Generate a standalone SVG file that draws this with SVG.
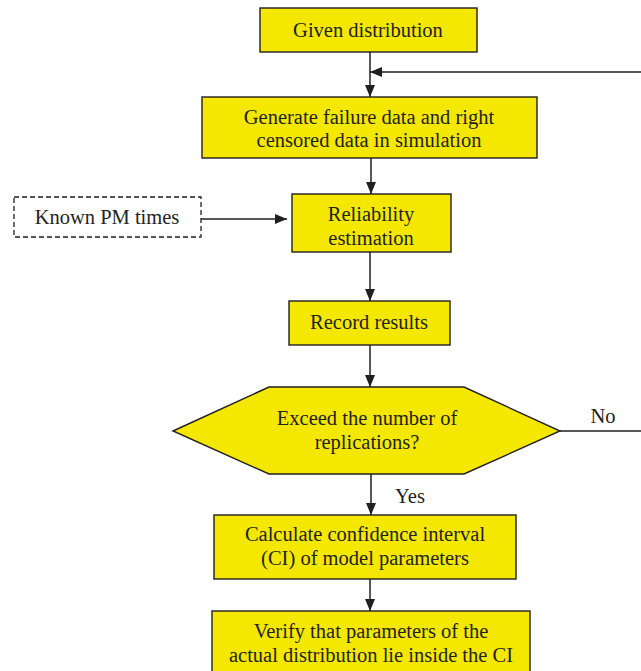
<svg xmlns="http://www.w3.org/2000/svg" width="641" height="671" viewBox="0 0 641 671">
<style>
.box{fill:#f5e800;stroke:#231f20;stroke-width:1.4}
.dash{fill:#fff;stroke:#231f20;stroke-width:1.3;stroke-dasharray:5,3}
.t{font-family:"Liberation Serif","Times New Roman",serif;font-size:20.5px;fill:#231f20;text-anchor:middle}
.ln{stroke:#231f20;stroke-width:1.5;fill:none}
</style>
<defs>
<marker id="ah" viewBox="0 0 12 10" refX="12" refY="5" markerWidth="12" markerHeight="10" markerUnits="userSpaceOnUse" orient="auto">
<path d="M0,0 L12,5 L0,10 Z" fill="#231f20"/>
</marker>
</defs>
<rect width="641" height="671" fill="#fff"/>
<g id="connectors">
<line class="ln" x1="370" y1="52" x2="370" y2="97" marker-end="url(#ah)"/>
<line class="ln" x1="641" y1="72" x2="370" y2="72" marker-end="url(#ah)"/>
<line class="ln" x1="371" y1="158" x2="371" y2="194" marker-end="url(#ah)"/>
<line class="ln" x1="201" y1="219" x2="287" y2="219" marker-end="url(#ah)"/>
<line class="ln" x1="370" y1="252" x2="370" y2="301" marker-end="url(#ah)"/>
<line class="ln" x1="370" y1="345" x2="370" y2="387" marker-end="url(#ah)"/>
<line class="ln" x1="371" y1="474" x2="371" y2="515" marker-end="url(#ah)"/>
<line class="ln" x1="370" y1="579" x2="370" y2="611" marker-end="url(#ah)"/>
<line class="ln" x1="560" y1="431" x2="641" y2="431"/>
<text class="t" x="603" y="423">No</text>
<text class="t" x="410" y="503">Yes</text>
</g>
<g id="given">
<rect class="box" x="260" y="8" width="217" height="44"/>
<text class="t" x="368" y="37">Given distribution</text>
</g>
<g id="generate">
<rect class="box" x="202" y="97" width="335" height="61"/>
<text class="t" x="369" y="124">Generate failure data and right</text>
<text class="t" x="369" y="147">censored data in simulation</text>
</g>
<g id="known">
<rect class="dash" x="14" y="197" width="187" height="40"/>
<text class="t" x="107" y="224">Known PM times</text>
</g>
<g id="reliability">
<rect class="box" x="292" y="194" width="159" height="58"/>
<text class="t" x="371" y="221">Reliability</text>
<text class="t" x="371" y="245">estimation</text>
</g>
<g id="record">
<rect class="box" x="289" y="301" width="161" height="44"/>
<text class="t" x="369" y="329">Record results</text>
</g>
<g id="decision">
<polygon class="box" points="173,431 269,387 464,387 560,431 464,474 269,474"/>
<text class="t" x="367" y="425">Exceed the number of</text>
<text class="t" x="367" y="449">replications?</text>
</g>
<g id="calculate">
<rect class="box" x="214" y="515" width="302" height="64"/>
<text class="t" x="365" y="541">Calculate confidence interval</text>
<text class="t" x="365" y="565">(CI) of model parameters</text>
</g>
<g id="verify">
<rect class="box" x="212" y="611" width="318" height="70"/>
<text class="t" x="371" y="638">Verify that parameters of the</text>
<text class="t" x="371" y="662">actual distribution lie inside the CI</text>
</g>
</svg>
